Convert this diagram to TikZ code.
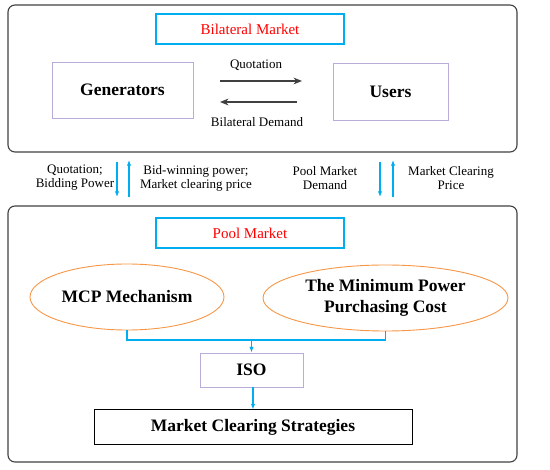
\documentclass[tikz,border=0pt]{standalone}
\usepackage{fontspec}
\setmainfont{Liberation Serif}
\usetikzlibrary{positioning,arrows.meta,shapes.geometric}
\definecolor{skyline}{HTML}{00AEEF}
\definecolor{lilac}{HTML}{B9ACD8}
\definecolor{tangerine}{HTML}{F79646}
\definecolor{frame}{HTML}{404040}

\begin{document}
\begin{tikzpicture}[x=1pt,y=-1pt,
        panel/.style={draw=frame,rounded corners=7pt,line width=1.1pt,minimum width=509pt},
        title/.style={draw=skyline,line width=1.4pt,text=red,font=\fontsize{15}{17}\selectfont,minimum width=188pt,minimum height=30pt},
        party/.style={draw=lilac,line width=0.9pt,font=\bfseries\fontsize{17.5}{20}\selectfont,minimum height=56pt},
        method/.style={ellipse,draw=tangerine,line width=0.9pt,align=center,inner sep=0pt,font=\bfseries\fontsize{17.5}{21.5}\selectfont},
        tag/.style={align=center,inner sep=0pt,font=\fontsize{13}{14}\selectfont},
        trade/.style={-{Stealth[length=3mm,width=2.4mm]},line width=1.3pt,draw=frame},
        info/.style={-{Latex[length=2mm,width=1.6mm]},line width=1.2pt,draw=skyline}]
        \useasboundingbox (0,0) rectangle (550,470);
        % bilateral part
        \node[panel,minimum height=147pt] (bipanel) at (262.5,78.5) {};
        \node[title] (bimarket) at (250,29) {Bilateral Market};
        \node[party,minimum width=141pt] (gen) at (122.5,90) {Generators};
        \node[party,minimum width=115pt,minimum height=57pt] (users) at (390.5,91.5) {Users};
        \coordinate (quoteA) at (220,81);
        \coordinate (quoteB) at (302,81);
        \coordinate (demandA) at (297,102);
        \coordinate (demandB) at (220,102);
        \draw[trade] (quoteA) -- (quoteB);
        \draw[trade] (demandA) -- (demandB);
        \node[tag] (quotetag) at (256,65) {Quotation};
        \node[tag] (demandtag) at (257,122) {Bilateral Demand};
        % exchange with the pool
        \coordinate (offertop) at (117,162);
        \coordinate (offerbot) at (117,197);
        \coordinate (awardbot) at (129,197);
        \coordinate (awardtop) at (129,160);
        \coordinate (needtop) at (380,162);
        \coordinate (needbot) at (380,197);
        \coordinate (pricebot) at (393,197);
        \coordinate (pricetop) at (393,160);
        \draw[info] (offertop) -- (offerbot);
        \draw[info] (awardbot) -- (awardtop);
        \draw[info] (needtop) -- (needbot);
        \draw[info] (pricebot) -- (pricetop);
        \node[tag] (offertag) at (75,178) {Quotation;\\Bidding Power};
        \node[tag] (awardtag) at (196,178) {Bid-winning power;\\Market clearing price};
        \node[tag] (needtag) at (325,178) {Pool Market\\Demand};
        \node[tag] (pricetag) at (451,178) {Market Clearing\\Price};
        % pool part
        \node[panel,minimum height=256pt] (poolpanel) at (262.5,334) {};
        \node[title] (pool) at (250,233) {Pool Market};
        \node[method,minimum width=194pt,minimum height=66pt] (mcp) at (127,297) {MCP Mechanism};
        \node[method,minimum width=245pt,minimum height=66pt] (cost) at (385.5,298) {The Minimum Power\\Purchasing Cost};
        \node[party,minimum width=103pt,minimum height=34pt] (iso) at (251.5,370) {ISO};
        \node[draw=black,line width=1pt,minimum width=318pt,minimum height=35pt,font=\bfseries\fontsize{17.5}{20}\selectfont] (strategy) at (253,427.5) {Market Clearing Strategies};
        \coordinate (merge) at (251.5,340);
        \draw[skyline,line width=1.2pt] (mcp.south) |- (merge) -| (cost.south);
        \draw[info] (merge) -- (iso.north);
        \draw[info] (iso.south -| strategy.north) -- (strategy.north);
    \end{tikzpicture}
\end{document}
